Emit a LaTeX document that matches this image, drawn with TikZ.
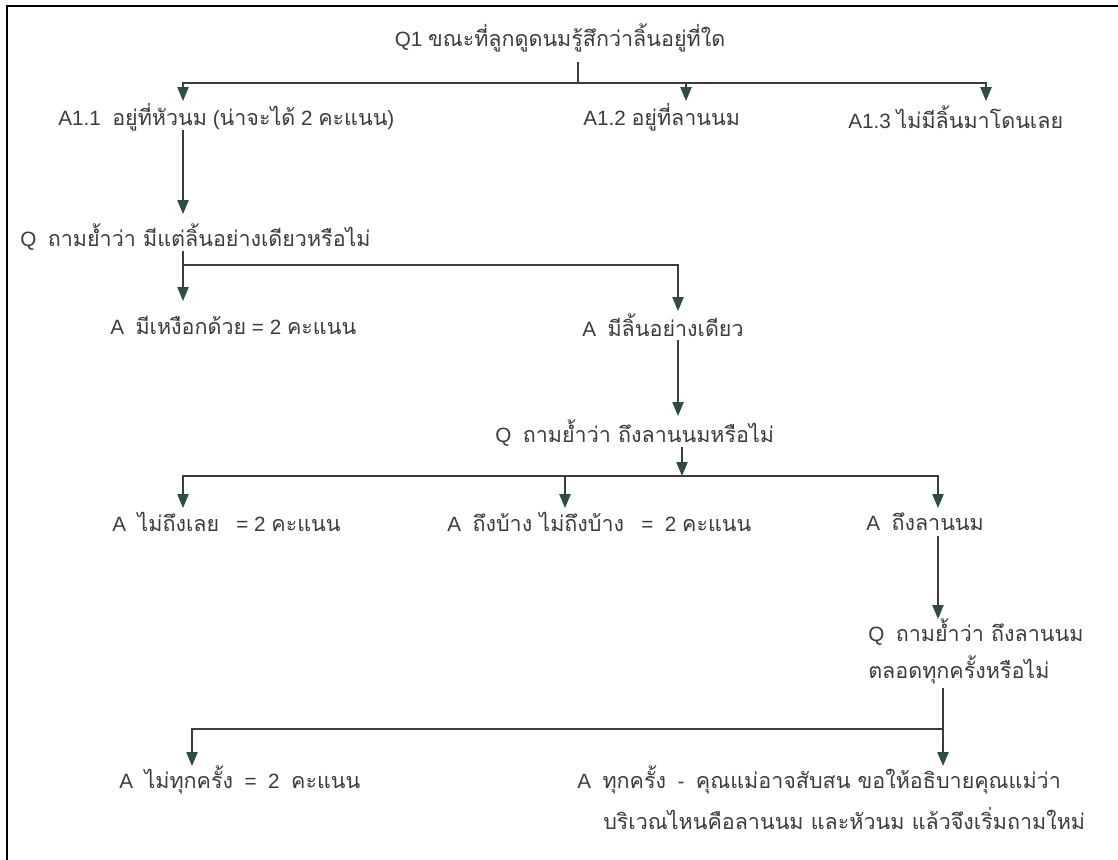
\documentclass[tikz,border=0pt]{standalone}
\usepackage{fontspec}
\setmainfont{Liberation Sans}
\newfontfamily\thaifont[Script=Thai,Scale=1.04]{Loma}
\newcommand{\tht}[1]{{\thaifont #1}}
\usetikzlibrary{arrows.meta}
\definecolor{ink}{HTML}{3C3C3C}
\definecolor{tipc}{HTML}{2F4C46}
\begin{document}
\begin{tikzpicture}[x=0.75pt,y=-0.75pt,
  lbl/.style={anchor=west,inner sep=0pt,font=\fontsize{15.5}{18}\selectfont,text=ink},
  conn/.style={draw=ink,line width=1pt},
  arr/.style={conn,-{Triangle[width=8.5pt,length=10.5pt,color=tipc]}}]
\path[use as bounding box] (0,0) rectangle (1118,860);
\draw[black,line width=1.6pt] (7,860) -- (7,6) -- (1118,6);
% texts
\node[lbl,anchor=center] (q1) at (560,38) {Q1\ \tht{ขณะที่ลูกดูดนมรู้สึกว่าลิ้นอยู่ที่ใด}};
\node[lbl] (a11) at (58,117) {A1.1\ \ \tht{อยู่ที่หัวนม} (\tht{น่าจะได้} 2 \tht{คะแนน})};
\node[lbl] (a12) at (583,117) {A1.2 \tht{อยู่ที่ลานนม}};
\node[lbl] (a13) at (848,117) {A1.3 \tht{ไม่มีลิ้นมาโดนเลย}};
\node[lbl] (q2) at (20,237) {Q\ \ \tht{ถามย้ำว่า มีแต่ลิ้นอย่างเดียวหรือไม่}};
\node[lbl] (a21) at (110,325) {A\ \ \tht{มีเหงือกด้วย} = 2 \tht{คะแนน}};
\node[lbl] (a22) at (582,325) {A\ \ \tht{มีลิ้นอย่างเดียว}};
\node[lbl] (q3) at (495,433) {Q\ \ \tht{ถามย้ำว่า ถึงลานนมหรือไม่}};
\node[lbl] (a31) at (112,522) {A\ \ \tht{ไม่ถึงเลย}\ \ \ =\ 2 \tht{คะแนน}};
\node[lbl] (a32) at (447,522) {A\ \ \tht{ถึงบ้าง ไม่ถึงบ้าง}\ \ \ =\ \ 2 \tht{คะแนน}};
\node[lbl] (a33) at (866,522) {A\ \ \tht{ถึงลานนม}};
\node[lbl] (q4) at (868,632) {Q\ \ \tht{ถามย้ำว่า ถึงลานนม}};
\node[lbl] (q4b) at (868,670) {\tht{ตลอดทุกครั้งหรือไม่}};
\node[lbl] (a41) at (119,780) {A\ \ \tht{ไม่ทุกครั้ง}\ \ =\ \ 2\ \ \tht{คะแนน}};
\node[lbl] (a42) at (577,780) {A\ \ \tht{ทุกครั้ง}\ \ -\ \ \tht{คุณแม่อาจสับสน ขอให้อธิบายคุณแม่ว่า}};
\node[lbl] (a42b) at (603,818) {\tht{บริเวณไหนคือลานนม และหัวนม แล้วจึงเริ่มถามใหม่}};
% junction coordinates
\coordinate (s1) at (578,62);  \coordinate (j1) at (578,83);
\coordinate (e11) at (183,101); \coordinate (e12) at (686,101); \coordinate (e13) at (986,101);
\coordinate (s2) at (183,130); \coordinate (e2) at (183,214);
\coordinate (s3) at (183,251); \coordinate (j3) at (183,265);
\coordinate (e31) at (183,301); \coordinate (e32) at (678,311);
\coordinate (s4) at (678,340); \coordinate (e4) at (678,416);
\coordinate (s5) at (682,447); \coordinate (j5) at (682,476);
\coordinate (e51) at (183,508); \coordinate (e52) at (565,508); \coordinate (e53) at (938,508);
\coordinate (s6) at (938,536); \coordinate (e6) at (938,619);
\coordinate (s7) at (943,688); \coordinate (j7) at (943,729);
\coordinate (e71) at (192,766); \coordinate (e72) at (943,766);
% connectors
\draw[conn] (s1) -- (j1);
\draw[arr] (j1) -| (e11);
\draw[arr] (j1) -| (e12);
\draw[arr] (j1) -| (e13);
\draw[arr] (s2) -- (e2);
\draw[arr] (s3) -- (e31);
\draw[arr] (j3) -| (e32);
\draw[arr] (s4) -- (e4);
\draw[arr] (s5) -- (j5);
\draw[arr] (j5) -| (e51);
\draw[arr] (j5) -| (e52);
\draw[arr] (j5) -| (e53);
\draw[arr] (s6) -- (e6);
\draw[arr] (s7) -- (e72);
\draw[arr] (j7) -| (e71);
\end{tikzpicture}
\end{document}
